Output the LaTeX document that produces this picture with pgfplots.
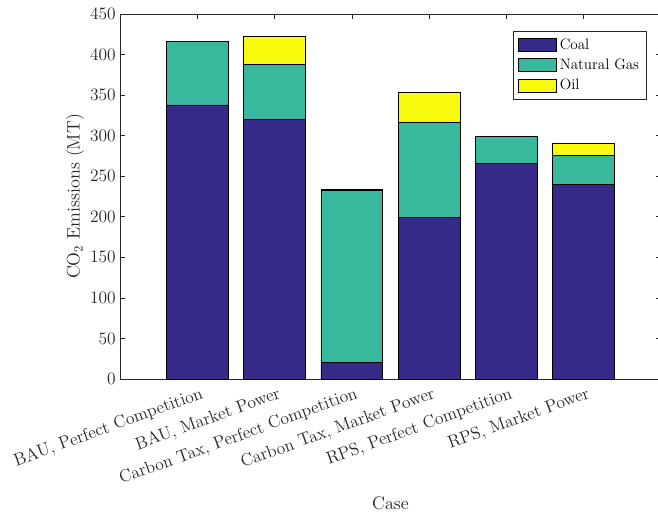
\documentclass[border=0pt]{standalone}
\usepackage{fontspec}
\usepackage{pgfplots}
\pgfplotsset{compat=1.18}
\definecolor{coal}{RGB}{53,42,135}
\definecolor{gas}{RGB}{56,185,158}
\definecolor{oil}{RGB}{249,251,14}
\definecolor{axgray}{RGB}{38,38,38}
\begin{document}
\begin{tikzpicture}
\begin{axis}[
  scale only axis, width=405.75pt, height=273.75pt,
  xmin=0, xmax=7, ymin=0, ymax=450,
  ybar stacked, bar width=0.8,
  xtick={1,2,3,4,5,6},
  xticklabels={{BAU, Perfect Competition},{BAU, Market Power},{Carbon Tax, Perfect Competition},{Carbon Tax, Market Power},{RPS, Perfect Competition},{RPS, Market Power}},
  ytick={0,50,...,450},
  /pgf/number format/assume math mode=true,
  tick align=inside, major tick length=3.75pt,
  xtick pos=both, ytick pos=both,
  tick style={axgray, line width=0.5pt},
  axis line style={axgray, line width=0.6pt},
  tick label style={font=\fontsize{13.1}{14}\selectfont, text=axgray},
  x tick label style={rotate=20, anchor=north east, inner sep=1pt, yshift=-4.5pt, xshift=1pt},
  y tick label style={inner sep=3pt},
  label style={font=\fontsize{13.6}{15}\selectfont, text=axgray},
  xlabel={Case},
  xlabel style={at={(axis description cs:0.5,-0.34)}, anchor=center},
  ylabel={CO\textsubscript{2} Emissions (MT)},
  ylabel style={at={(axis description cs:-0.083,0.5)}, anchor=center},
  legend style={at={(rel axis cs:0.9736,0.954)}, anchor=north east,
    font=\fontsize{11.3}{13}\selectfont, draw=axgray, line width=0.5pt,
    cells={anchor=west}, row sep=1.8pt, inner sep=3.5pt},
  legend image code/.code={\draw[#1,draw=black,line width=0.5pt] (0pt,-4.9pt) rectangle (29pt,4.9pt);},
]
\addplot[fill=coal, draw=black, line width=0.5pt] coordinates {(1,338) (2,320) (3,20) (4,199) (5,266) (6,240)};
\addplot[fill=gas, draw=black, line width=0.5pt] coordinates {(1,78) (2,68) (3,213) (4,118) (5,33) (6,36)};
\addplot[fill=oil, draw=black, line width=0.5pt] coordinates {(1,0) (2,34) (3,0.5) (4,36.5) (5,0) (6,14.5)};
\legend{Coal, Natural Gas, Oil}
\end{axis}
\pgfresetboundingbox
\path ([xshift=-90pt,yshift=-100.5pt]current axis.south west) rectangle ([xshift=-2.25pt,yshift=10.5pt]current axis.north east);
\end{tikzpicture}
\end{document}
